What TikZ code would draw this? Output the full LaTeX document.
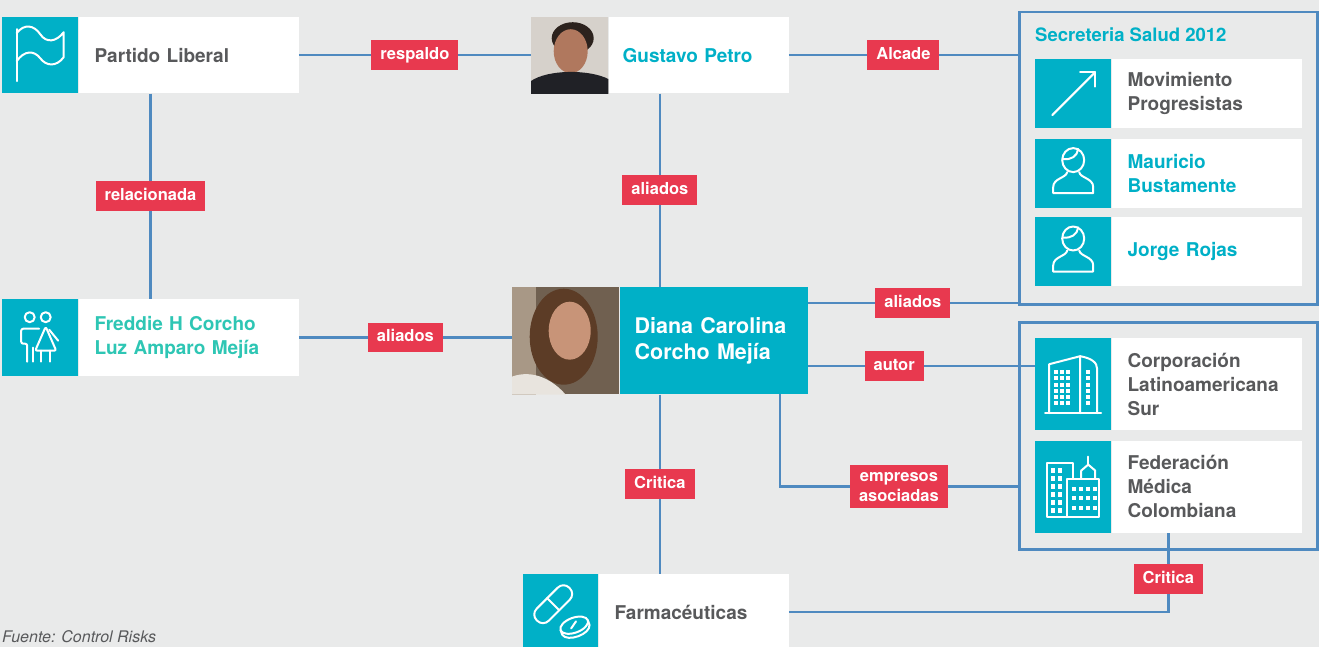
\documentclass[tikz,border=0pt]{standalone}
\usepackage{fontspec}
\setmainfont{TeX Gyre Heros}
\usetikzlibrary{positioning,fit}
\definecolor{fondo}{HTML}{E9EAEA}
\definecolor{turq}{HTML}{00B0C7}
\definecolor{rojo}{HTML}{E8394F}
\definecolor{linea}{HTML}{4F8AC0}
\definecolor{gris}{HTML}{58595B}
\definecolor{verde}{HTML}{2EC6B4}
\begin{document}
\begin{tikzpicture}[x=1pt, y=-1pt,
    tile/.style={fill=turq, anchor=north west, inner sep=0pt, minimum width=76pt},
    foto/.style={anchor=north west, inner sep=0pt},
    card/.style={fill=white, inner xsep=16pt, inner ysep=0pt, align=left, text width=158pt,
        font=\fontsize{19}{24}\selectfont\bfseries, text=gris},
    etiq/.style={fill=rojo, text=white, inner xsep=9pt, inner ysep=7pt, align=center,
        font=\fontsize{16.5}{20}\selectfont\bfseries},
    tag/.style={etiq, text height=12pt, text depth=3.5pt},
    link/.style={draw=linea, line width=2.5pt},
    grupo/.style={draw=linea, line width=2.5pt, anchor=north west, inner sep=0pt},
    icon/.style={draw=white, line width=2pt, line cap=round, line join=round}]
    \useasboundingbox (0,0) rectangle (1319,647);
    \fill[fondo] (0,0) rectangle (1319,647);
    
    % grupos
    \node[grupo, minimum width=298pt, minimum height=292pt] (secr) at (1018,11) {};
    \node[grupo, minimum width=298pt, minimum height=227pt] (empr) at (1018,321) {};
    \node[anchor=west, inner sep=0pt, text=turq, font=\fontsize{18.5}{22}\selectfont\bfseries] (secrT) at (1035,35) {Secreteria Salud 2012};
    
    % personas y entidades
    \node[tile, minimum height=76pt] (libT) at (2,17) {};
    \node[card, minimum height=76pt, text width=188pt, right=0pt of libT] (lib) {Partido Liberal};
    \node[fit=(libT)(lib), inner sep=0pt] (libA) {};
    
    \node[foto, minimum width=77pt, minimum height=76pt] (petroF) at (531,17) {};
    \node[card, minimum height=76pt, inner xsep=14pt, text width=152pt, text=turq, right=0pt of petroF] (petro) {Gustavo Petro};
    \node[fit=(petroF)(petro), inner sep=0pt] (petroA) {};
    
    \node[tile, minimum height=77pt] (freT) at (2,299) {};
    \node[card, minimum height=77pt, text width=188pt, text=verde, right=0pt of freT] (fre) {Freddie H Corcho\\Luz Amparo Mejía};
    \node[fit=(freT)(fre), inner sep=0pt] (freA) {};
    
    \node[foto, minimum width=107pt, minimum height=107pt] (dianaF) at (512,287) {};
    \node[card, fill=turq, text=white, minimum height=107pt, inner xsep=15pt, text width=158pt,
        font=\fontsize{21.5}{26}\selectfont\bfseries, right=0pt of dianaF] (diana) {Diana Carolina\\Corcho Mejía};
    \node[fit=(dianaF)(diana), inner sep=0pt] (dianaA) {};
    
    \node[tile, minimum width=75pt, minimum height=76pt] (farmaT) at (523,574) {};
    \node[card, minimum height=76pt, right=0pt of farmaT] (farma) {Farmacéuticas};
    \node[fit=(farmaT)(farma), inner sep=0pt] (farmaA) {};
    
    \node[tile, minimum height=69pt] (movT) at (1035,59) {};
    \node[card, minimum height=69pt, text width=158pt, right=0pt of movT] (mov) {Movimiento\\Progresistas};
    \node[tile, minimum height=69pt, below=10pt of movT] (mauT) {};
    \node[card, minimum height=69pt, text=turq, right=0pt of mauT] (mau) {Mauricio\\Bustamente};
    \node[tile, minimum height=69pt, below=9pt of mauT] (jorT) {};
    \node[card, minimum height=69pt, text=turq, right=0pt of jorT] (jor) {Jorge Rojas};
    
    \node[tile, minimum height=92pt] (corpT) at (1035,338) {};
    \node[card, minimum height=92pt, right=0pt of corpT] (corp) {Corporación\\Latinoamericana\\Sur};
    \node[tile, minimum height=92pt, below=10pt of corpT] (fedT) {};
    \node[card, minimum height=92pt, right=0pt of fedT] (fed) {Federación\\Médica\\Colombiana};
    \node[fit=(fedT)(fed), inner sep=0pt] (fedA) {};
    
    \node[anchor=base west, inner sep=0pt, text=gris, font=\fontsize{16}{18}\selectfont\itshape] (fuente) at (2,642) {Fuente: Control Risks};
    
    % fotos
    \begin{scope}
        \clip (petroF.north west) rectangle (petroF.south east);
        \fill[fill={rgb,255:red,214;green,209;blue,203}] (petroF.north west) rectangle (petroF.south east);
        \begin{scope}[shift={(petroF.center)}]
            \fill[fill={rgb,255:red,44;green,34;blue,29}] (3,-17) ellipse (21 and 16);
            \fill[fill={rgb,255:red,176;green,120;blue,94}] (1,-4) ellipse (17 and 22);
            \fill[fill={rgb,255:red,32;green,33;blue,38}] (-39,39) -- (-39,26) .. controls (-22,14) and (20,14) .. (39,24) -- (39,39) -- cycle;
        \end{scope}
    \end{scope}
    \begin{scope}
        \clip (dianaF.north west) rectangle (dianaF.south east);
        \fill[fill={rgb,255:red,112;green,96;blue,80}] (dianaF.north west) rectangle (dianaF.south east);
        \begin{scope}[shift={(dianaF.center)}]
            \fill[fill={rgb,255:red,168;green,152;blue,134}] (-54,-54) rectangle (-30,54);
            \fill[fill={rgb,255:red,92;green,60;blue,38}] (-2,-4) ellipse (34 and 48);
            \fill[fill={rgb,255:red,200;green,148;blue,120}] (4,-10) ellipse (21 and 29);
            \fill[fill={rgb,255:red,232;green,228;blue,222}] (-54,54) -- (-54,36) .. controls (-32,28) and (-12,40) .. (0,54) -- cycle;
        \end{scope}
    \end{scope}
    
    % iconos
    \begin{scope}[shift={(libT.center)}]
        \draw[icon] (-23.5,-26) -- (-23.5,26);
        \draw[icon] (-23.5,-22) .. controls (-16,-32) and (-6,-30) .. (0,-21) .. controls (6,-12) and (16,-13) .. (23.5,-23) -- (23.5,2)
            .. controls (16,12) and (6,11) .. (0,3) .. controls (-6,-5) and (-16,-5) .. (-23.5,6);
    \end{scope}
    \begin{scope}[shift={(freT.center)}]
        \draw[icon] (-10.5,-20.5) circle (5);
        \draw[icon] (5.5,-20.5) circle (5);
        \draw[icon, rounded corners=2pt] (-13,24) -- (-13,6) -- (-19,6) -- (-19,-9) -- (-1,-9);
        \draw[icon] (-7,24) -- (-7,10);
        \draw[icon, rounded corners=2pt] (5.5,-11) -- (-5,13) -- (16,13) -- cycle;
        \draw[icon] (1,13) -- (1,24);
        \draw[icon] (10,13) -- (10,24);
        \draw[icon] (9,-8) -- (18,3);
    \end{scope}
    \begin{scope}[shift={(movT.center)}]
        \draw[icon] (-21,21.5) -- (22,-21.5);
        \draw[icon] (7,-21.5) -- (22,-21.5) -- (22,-7);
    \end{scope}
    \foreach \t in {mauT,jorT}
    {
        \begin{scope}[shift={(\t.center)}]
            \draw[icon] (0,-13) ellipse (11 and 12);
            \draw[icon] (-10,-14) .. controls (-2,-13) and (4,-17) .. (5,-24);
            \draw[icon] (-6,-1) .. controls (-7,5) and (-20,5) .. (-20,14) -- (-20,20) -- (20,20) -- (20,14) .. controls (20,5) and (7,5) .. (6,-1);
        \end{scope}
    }
    \begin{scope}[shift={(corpT.center)}]
        \draw[icon] (-28,29) -- (28,29);
        \draw[icon] (-24,29) -- (-24,-20) -- (7,-28) -- (7,29);
        \draw[icon] (7,-28) .. controls (18,-26) and (24,-22) .. (24,-15) -- (24,29);
        \foreach \i in {0,1,2}
        {
            \foreach \j in {0,...,5}
            {
                \fill[white] (-19+\i*6,-14+\j*6.2) rectangle +(4,4);
            }
        }
        \foreach \j in {0,...,5}
        {
            \fill[white] (13,-14+\j*6.2) rectangle +(4,4);
        }
    \end{scope}
    \begin{scope}[shift={(fedT.center)}]
        \draw[icon] (-6,30) -- (-26,30) -- (-26,-24) -- (0,-24) -- (0,-8);
        \draw[icon] (-6,-8) rectangle (26,30);
        \draw[icon] (8,-8) -- (8,-16) -- (15,-22) -- (22,-16) -- (22,-8);
        \draw[icon] (15,-22) -- (15,-30);
        \foreach \i in {0,1}
        {
            \foreach \j in {0,...,5}
            {
                \fill[white] (-22+\i*7,-19+\j*8) rectangle +(4,5);
            }
        }
        \foreach \i in {0,...,3}
        {
            \foreach \j in {0,1,2}
            {
                \fill[white] (-1+\i*7,0+\j*9.5) rectangle +(4,4);
            }
        }
    \end{scope}
    \begin{scope}[shift={(farmaT.center)}]
        \draw[icon, shift={(-7.5,-8)}, rotate=45, rounded corners=8pt] (-23,-8.5) rectangle (23,8.5);
        \draw[icon, shift={(-7.5,-8)}, rotate=45] (0,-8.5) -- (0,8.5);
        \draw[icon, shift={(13.5,13)}, rotate=20] (0,0) ellipse (14.5 and 7.5);
        \draw[icon, shift={(13.5,13)}, rotate=20] (-14.5,0) -- (-14.5,5) .. controls (-12,14) and (12,14) .. (14.5,5) -- (14.5,0);
        \draw[icon, shift={(13.5,13)}, rotate=20] (-4,2) -- (3,-3);
    \end{scope}
    
    % conexiones
    \draw[link] (lib) -- node[tag]{respaldo} (petroF);
    \draw[link] (libA) -- node[tag]{relacionada} (freA);
    \draw[link] (fre) -- node[tag]{aliados} (fre -| dianaF.west);
    \draw[link] (petroA) -- node[tag]{aliados} (dianaA);
    \draw[link] (petro) -- node[tag]{Alcade} (petro -| secr.west);
    \draw[link] (dianaA) -- node[tag]{Critica} (dianaA |- farmaA.north);
    
    \coordinate (dAli) at ([yshift=-16pt]diana.north east);
    \coordinate (dAut) at ([yshift=-79pt]diana.north east);
    \coordinate (dEmp) at ([xshift=-28pt]diana.south east);
    \draw[link] (dAli) -- node[tag]{aliados} (dAli -| secr.west);
    \draw[link] (dAut) -- node[tag, pos=.38]{autor} (dAut -| corpT.west);
    \draw[link] (dEmp) |- node[etiq, pos=.75]{empresos\\asociadas} (empr.west |- fedT.west);
    \draw[link] (farma) -| node[tag, pos=.71]{Critica} (fedA);
    
\end{tikzpicture}
\end{document}
